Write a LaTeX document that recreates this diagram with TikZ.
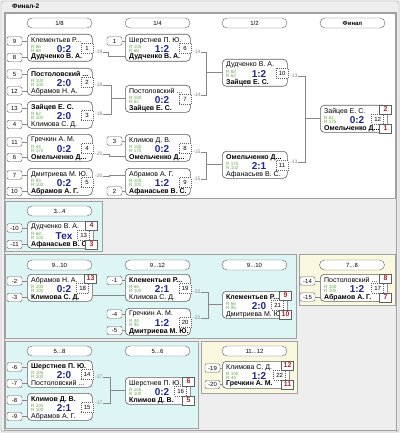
\documentclass[tikz,border=0pt]{standalone}
\usepackage{fontspec}
\setmainfont{Liberation Sans}
\definecolor{cyanbg}{RGB}{222,245,245}
\definecolor{creambg}{RGB}{251,248,224}
\definecolor{winbg}{RGB}{238,238,238}
\definecolor{framec}{RGB}{160,160,160}
\definecolor{boxline}{RGB}{95,95,95}
\definecolor{scorec}{RGB}{30,40,140}
\definecolor{ratec}{RGB}{100,170,80}
\definecolor{placec}{RGB}{165,35,35}
\definecolor{connc}{RGB}{135,135,135}
\definecolor{lblc}{RGB}{130,130,130}
\newcommand{\Mt}[4]{\node[matchbox, minimum width=#4pt, anchor=north west] (#1) at (#2,#3) {};}
\newcommand{\Pl}[6]{%
 \node[pname] (#1t) at ([xshift=4pt,yshift=-6.3pt]#1.north west) {#2};
 \node[rate] (#1ra) at ([xshift=4pt,yshift=-12.6pt]#1.north west) {R #3};
 \node[rate] (#1rb) at ([xshift=4pt,yshift=-17.4pt]#1.north west) {R #5};
 \node[pname] (#1b) at ([xshift=4pt,yshift=-23.3pt]#1.north west) {#4};
 \node[score] (#1s) at ([xshift=37pt,yshift=-15pt]#1.north west) {#6};}
\newcommand{\Nb}[4]{\node[numbox] (#1n) at ([xshift=#3pt,yshift=-#4pt]#1.north east) {#2};}
\newcommand{\Pc}[4]{\node[place] (#1) at ([xshift=-2pt,yshift=-#4pt]#3.north east) {#2};}
\newcommand{\Sd}[5]{\node[seedbox] (#1) at (#3,#4) {#2}; \draw[conn] (#1.east) -- (#1.east -| #5.west);}
\begin{document}
\begin{tikzpicture}[x=1pt,y=-1pt,
 matchbox/.style={draw=boxline, fill=white, rounded corners=4pt, minimum height=27pt, inner sep=0pt, line width=0.6pt},
 pname/.style={font=\fontsize{7}{8}\selectfont, inner sep=0pt, anchor=west},
 rate/.style={font=\fontsize{4.6}{5}\selectfont, text=ratec, inner sep=0pt, anchor=west},
 score/.style={font=\fontsize{10}{11}\selectfont\bfseries, text=scorec, inner sep=0pt},
 numbox/.style={draw=boxline, dash pattern=on 1pt off 1pt, fill=white, minimum width=12pt, minimum height=10pt, inner sep=0pt, font=\fontsize{6}{7}\selectfont},
 place/.style={draw=boxline, fill=white, minimum width=12pt, minimum height=9pt, inner sep=0pt, font=\fontsize{7}{8}\selectfont\bfseries, text=placec},
 seedbox/.style={draw=boxline, fill=white, rounded corners=1.5pt, minimum width=15pt, minimum height=8.5pt, inner sep=0pt, font=\fontsize{6}{7}\selectfont},
 lbl/.style={font=\fontsize{5}{6}\selectfont, text=lblc, inner sep=0pt, anchor=west},
 hdr/.style={draw=boxline, fill=white, rounded corners=5pt, minimum width=65pt, minimum height=10pt, inner sep=0pt, font=\fontsize{6}{7}\selectfont},
 conn/.style={draw=connc, line width=0.5pt},
 panel/.style={draw=framec, line width=0.5pt}]
\useasboundingbox (0,0) rectangle (400,433);
% window
\fill[winbg] (0,0) rectangle (400,433);
\draw[framec, rounded corners=3pt] (1,1) rectangle (399,432);
\node[font=\fontsize{6.5}{7}\selectfont\bfseries, anchor=west, inner sep=0pt] (title) at (12,6.5) {Финал-2};
\draw[framec] (4,12) rectangle (396,430);
\filldraw[fill=white, panel] (5,13) rectangle (395,198);
% lower panels
\filldraw[fill=cyanbg, panel] (5,201) rectangle (102,251);
\filldraw[fill=cyanbg, panel] (5,254) rectangle (296,338);
\filldraw[fill=creambg, panel] (299,254) rectangle (395,305);
\filldraw[fill=cyanbg, panel] (5,341) rectangle (198,428);
\filldraw[fill=creambg, panel] (201,341) rectangle (297,393);
% headers
\node[hdr] (h1) at (59.5,23) {1/8};
\node[hdr] (h2) at (157.5,23) {1/4};
\node[hdr] (h3) at (254.5,23) {1/2};
\node[hdr, font=\fontsize{6}{7}\selectfont\bfseries] (h4) at (352.5,23) {Финал};
\node[hdr] (h5) at (59.5,211) {3...4};
\node[hdr] (h6) at (59.5,265) {9...10};
\node[hdr] (h7) at (157.5,265) {9...12};
\node[hdr] (h8) at (254.5,265) {9...10};
\node[hdr] (h9) at (352,265) {7...8};
\node[hdr] (h10) at (59.5,351) {5...8};
\node[hdr] (h11) at (157.5,351) {5...6};
\node[hdr] (h12) at (254.5,351) {11...12};
% matches main
\Mt{m1}{27}{34}{65}\Pl{m1}{Клементьев Р...}{66}{\textbf{Дудченко В. А.}}{68}{0:2}\Nb{m1}{1}{-5.5}{14.5}
\Mt{m2}{27}{68}{65}\Pl{m2}{\textbf{Постоловский ...}}{100}{Абрамов Н. А.}{100}{2:0}\Nb{m2}{2}{-5.5}{14.5}
\Mt{m3}{27}{101}{65}\Pl{m3}{\textbf{Зайцев Е. С.}}{62}{Климова С. Д.}{100}{2:0}\Nb{m3}{3}{-5.5}{14.5}
\Mt{m4}{27}{134}{65}\Pl{m4}{Гречкин А. М.}{44}{\textbf{Омельченко Д...}}{175}{0:2}\Nb{m4}{4}{-5.5}{14.5}
\Mt{m5}{27}{168}{65}\Pl{m5}{Дмитриева М. Ю.}{95}{\textbf{Абрамов А. Г.}}{100}{0:2}\Nb{m5}{5}{-5.5}{14.5}
\Mt{m6}{125}{34}{65}\Pl{m6}{Шерстнев П. Ю.}{105}{\textbf{Дудченко В. А.}}{68}{1:2}\Nb{m6}{6}{-5.5}{14.5}
\Mt{m7}{125}{85}{65}\Pl{m7}{Постоловский ...}{100}{\textbf{Зайцев Е. С.}}{62}{0:2}\Nb{m7}{7}{-5.5}{14.5}
\Mt{m8}{125}{134}{65}\Pl{m8}{Климов Д. В.}{100}{\textbf{Омельченко Д...}}{175}{0:2}\Nb{m8}{8}{-5.5}{14.5}
\Mt{m9}{125}{168}{65}\Pl{m9}{Абрамов А. Г.}{100}{\textbf{Афанасьев В. С.}}{102}{1:2}\Nb{m9}{9}{-5.5}{14.5}
\Mt{m10}{222}{59}{65}\Pl{m10}{Дудченко В. А.}{68}{\textbf{Зайцев Е. С.}}{62}{1:2}\Nb{m10}{10}{-5.5}{14.5}
\Mt{m11}{222}{151}{65}\Pl{m11}{\textbf{Омельченко Д...}}{175}{Афанасьев В. С.}{102}{2:1}\Nb{m11}{11}{-5.5}{14.5}
\Mt{m12}{320}{105}{67}\Pl{m12}{Зайцев Е. С.}{62}{\textbf{Омельченко Д...}}{175}{0:2}\Nb{m12}{12}{-10}{14}
\Pc{p12a}{2}{m12}{4.5}\Pc{p12b}{1}{m12}{23.5}
% lower matches
\Mt{m13}{27}{221}{66}\Pl{m13}{Дудченко В. А.}{68}{\textbf{Афанасьев В. С.}}{102}{Тех}\Nb{m13}{13}{-10}{14}
\Pc{p13a}{4}{m13}{4.5}\Pc{p13b}{3}{m13}{23.5}
\Mt{m18}{27}{274}{65}\Pl{m18}{Абрамов Н. А.}{100}{\textbf{Климова С. Д.}}{100}{0:2}\Nb{m18}{18}{-10}{14}
\Pc{p18a}{13}{m18}{4.5}
\Mt{m19}{125}{274}{65}\Pl{m19}{\textbf{Клементьев Р...}}{66}{Климова С. Д.}{100}{2:1}\Nb{m19}{19}{-5.5}{14.5}
\Mt{m20}{125}{308}{65}\Pl{m20}{Гречкин А. М.}{44}{\textbf{Дмитриева М. Ю.}}{95}{1:2}\Nb{m20}{20}{-5.5}{14.5}
\Mt{m21}{222}{291}{65}\Pl{m21}{\textbf{Клементьев Р...}}{66}{Дмитриева М. Ю.}{95}{2:0}\Nb{m21}{21}{-10}{14}
\Pc{p21a}{9}{m21}{4.5}\Pc{p21b}{10}{m21}{23.5}
\Mt{m17}{320}{274}{67}\Pl{m17}{Постоловский ...}{100}{\textbf{Абрамов А. Г.}}{100}{1:2}\Nb{m17}{17}{-10}{14}
\Pc{p17a}{8}{m17}{4.5}\Pc{p17b}{7}{m17}{23.5}
\Mt{m14}{27}{360}{65}\Pl{m14}{\textbf{Шерстнев П. Ю.}}{105}{Постоловский ...}{100}{2:0}\Nb{m14}{14}{-5.5}{14.5}
\Mt{m15}{27}{393}{65}\Pl{m15}{\textbf{Климов Д. В.}}{100}{Абрамов А. Г.}{100}{2:1}\Nb{m15}{15}{-5.5}{14.5}
\Mt{m16}{125}{377}{65}\Pl{m16}{Шерстнев П. Ю.}{105}{\textbf{Климов Д. В.}}{100}{0:2}\Nb{m16}{16}{-10}{14}
\Pc{p16a}{6}{m16}{4.5}\Pc{p16b}{5}{m16}{23.5}
\Mt{m22}{222}{361}{67}\Pl{m22}{Климова С. Д.}{100}{\textbf{Гречкин А. М.}}{44}{1:2}\Nb{m22}{22}{-10}{14}
\Pc{p22a}{12}{m22}{4.5}\Pc{p22b}{11}{m22}{23.5}
% seeds
\Sd{s1a}{9}{14.5}{41}{m1}\Sd{s1b}{8}{14.5}{57.5}{m1}
\Sd{s2a}{5}{14.5}{74}{m2}\Sd{s2b}{12}{14.5}{91}{m2}
\Sd{s3a}{13}{14.5}{108}{m3}\Sd{s3b}{4}{14.5}{124.5}{m3}
\Sd{s4a}{11}{14.5}{142}{m4}\Sd{s4b}{6}{14.5}{157.5}{m4}
\Sd{s5a}{7}{14.5}{175}{m5}\Sd{s5b}{10}{14.5}{191.5}{m5}
\Sd{s6a}{1}{114.5}{41}{m6}
\Sd{s8a}{3}{114.5}{141}{m8}
\Sd{s9b}{2}{114.5}{191}{m9}
\Sd{s13a}{-10}{14.5}{228}{m13}\Sd{s13b}{-11}{14.5}{244.5}{m13}
\Sd{s18a}{-2}{14.5}{281}{m18}\Sd{s18b}{-3}{14.5}{297.5}{m18}
\Sd{s19a}{-1}{114.5}{280.5}{m19}
\Sd{s20a}{-4}{114.5}{314}{m20}\Sd{s20b}{-5}{114.5}{330.5}{m20}
\Sd{s17a}{-14}{307.5}{281}{m17}\Sd{s17b}{-15}{307.5}{297}{m17}
\Sd{s14a}{-6}{14.5}{367}{m14}\Sd{s14b}{-7}{14.5}{383.5}{m14}
\Sd{s15a}{-8}{14.5}{400}{m15}\Sd{s15b}{-9}{14.5}{416.5}{m15}
\Sd{s22a}{-19}{212.5}{368}{m22}\Sd{s22b}{-20}{212.5}{384.5}{m22}
% labels
\node[lbl] (m1l) at (95,52) {-19};
\node[lbl] (m2l) at (95,85) {-18};
\node[lbl] (m3l) at (95,114) {-18};
\node[lbl] (m4l) at (95,154) {-20};
\node[lbl] (m5l) at (95,176) {-20};
\node[lbl] (m6l) at (193,52) {-14};
\node[lbl] (m7l) at (193,95) {-14};
\node[lbl] (m8l) at (193,152) {-15};
\node[lbl] (m9l) at (193,179) {-15};
\node[lbl] (m10l) at (290,76) {-13};
\node[lbl] (m11l) at (290,162) {-13};
\node[lbl] (m19l) at (193,292) {-22};
\node[lbl] (m20l) at (193,318) {-22};
\node[lbl] (m14l) at (95,377) {-17};
\node[lbl] (m15l) at (95,403) {-17};
% joins
\coordinate (j7) at (111,98.5);
\coordinate (j10) at (206,72.5);
\coordinate (j11) at (206,164.5);
\coordinate (j12) at (305,118.5);
\coordinate (j21) at (208,304.5);
\coordinate (j16) at (110,390.5);
% connectors
\draw[conn] (m1l.east) -- ++(6,0) |- ([yshift=-22pt]m6.north west);
\draw[conn] (m2l.east) -| (j7);
\draw[conn] (m3l.east) -| (j7);
\draw[conn] (j7) -- (j7 -| m7.west);
\draw[conn] (m4l.east) -- ++(7,0) |- ([yshift=-22pt]m8.north west);
\draw[conn] (m5l.east) -- ++(7,0) |- ([yshift=-7pt]m9.north west);
\draw[conn] (m6l.east) -| (j10);
\draw[conn] (m7l.east) -| (j10);
\draw[conn] (j10) -- (j10 -| m10.west);
\draw[conn] (m8l.east) -| (j11);
\draw[conn] (m9l.east) -| (j11);
\draw[conn] (j11) -- (j11 -| m11.west);
\draw[conn] (m10l.east) -| (j12);
\draw[conn] (m11l.east) -| (j12);
\draw[conn] (j12) -- (j12 -| m12.west);
\draw[conn] ([yshift=-21pt]m18.north east) -- ([yshift=-21pt]m19.north west);
\draw[conn] (m19l.east) -| (j21);
\draw[conn] (m20l.east) -| (j21);
\draw[conn] (j21) -- (j21 -| m21.west);
\draw[conn] (m14l.east) -| (j16);
\draw[conn] (m15l.east) -| (j16);
\draw[conn] (j16) -- (j16 -| m16.west);
\end{tikzpicture}
\end{document}
